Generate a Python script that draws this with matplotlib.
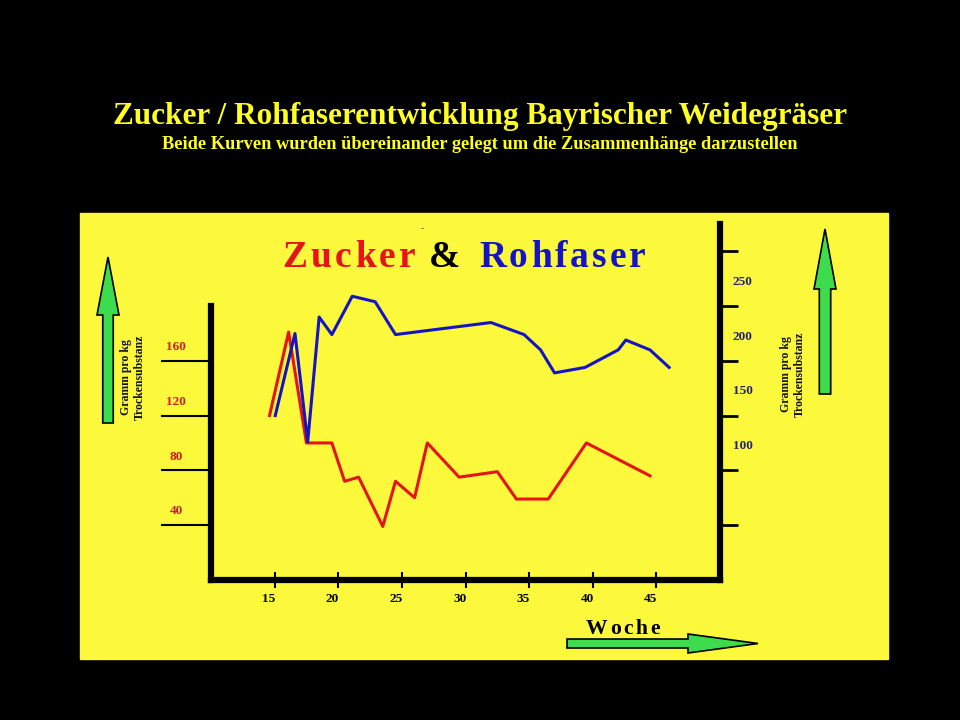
import matplotlib.pyplot as plt
from matplotlib.patches import Rectangle, FancyArrow

# Daten
zucker_wochen = [14.6, 16.1, 17.5, 19.5, 20.5, 21.6, 23.5, 24.5, 26.0, 27.0, 29.5, 32.5, 34.0, 36.5, 39.5, 44.5]
zucker = [120, 181, 100, 100, 72, 75, 39, 72, 60, 100, 75, 79, 59, 59, 100, 76]

rohfaser_wochen = [15.05, 16.6, 17.6, 18.5, 19.5, 21.1, 22.9, 24.5, 32.0, 34.6, 35.9, 37.0, 39.4, 42.0, 42.6, 44.5, 46.0]
rohfaser = [150, 225, 126, 240, 224, 259, 254, 224, 235, 224, 210, 189, 194, 210, 219, 210, 194]

wochen_ticks = [15, 20, 25, 30, 35, 40, 45]
zucker_ticks = [40, 80, 120, 160]
rohfaser_ticks = [50, 100, 150, 200, 250, 300]
rohfaser_labels = [100, 150, 200, 250]

gelb = "#fcf83c"
gruen = "#3cdc4c"
rot = "#e3141a"
blau = "#1414c4"
serif = "Liberation Serif"

fig = plt.figure(figsize=(9.6, 7.2), dpi=100, facecolor="black")

# Hintergrund-Achse in Pixelkoordinaten
bg = fig.add_axes([0, 0, 1, 1])
bg.set_xlim(0, 960)
bg.set_ylim(720, 0)
bg.axis("off")
bg.add_patch(Rectangle((80, 213), 808, 446, color=gelb))

renderer = fig.canvas.get_renderer()


def gesperrt(x, y, text, gap, **kw):
    # Text mit Buchstabenabstand zeichnen
    for ch in text:
        t = bg.text(x, y, ch, ha="left", va="baseline", family=serif, fontweight="bold", **kw)
        x += t.get_window_extent(renderer).width + gap
    return x


# Titel
bg.text(480, 124, "Zucker / Rohfaserentwicklung Bayrischer Weidegräser", ha="center", va="baseline",
        color="#ffff22", fontsize=22.5, fontweight="bold", family=serif)
bg.text(480, 149, "Beide Kurven wurden übereinander gelegt um die Zusammenhänge darzustellen", ha="center",
        va="baseline", color="#ffff22", fontsize=13.2, fontweight="bold", family=serif)

gesperrt(282, 267, "Zucker", 3.5, color=rot, fontsize=27)
gesperrt(429, 267, "&", 0, color="black", fontsize=27)
gesperrt(479, 267, "Rohfaser", 3.0, color=blau, fontsize=27)
bg.text(422, 229, "-", ha="center", va="center", fontsize=6, color="#333333")

gesperrt(586, 634, "Woche", 2.5, color="black", fontsize=15.5)

# Pfeile
bg.add_patch(FancyArrow(108, 423, 0, -166, width=10.5, head_width=22, head_length=58,
                        length_includes_head=True, fc=gruen, ec="black", lw=1.2))
bg.add_patch(FancyArrow(825, 394, 0, -165, width=11.4, head_width=22, head_length=60,
                        length_includes_head=True, fc=gruen, ec="black", lw=1.2))
bg.add_patch(FancyArrow(567, 643.5, 191, 0, width=9, head_width=19, head_length=70,
                        length_includes_head=True, fc=gruen, ec="black", lw=1.2))

for x, y in [(133, 377), (793, 374)]:
    bg.text(x, y, "Gramm pro kg\nTrockensubstanz", rotation=90, ha="center", va="center",
            fontsize=8.5, fontweight="bold", family=serif, linespacing=1.25, color="#111111")

# Diagramm
ax = fig.add_axes([211 / 960, (720 - 579.8) / 720, 509 / 960, 355.8 / 720])
ax.patch.set_visible(False)
ax.plot(zucker_wochen, zucker, color=rot, lw=2.2)
ax.set_xlim(10, 50)
ax.set_ylim(0, 260)

ax2 = ax.twinx()
ax2.plot(rohfaser_wochen, rohfaser, color=blau, lw=2.2)
ax2.set_ylim(0, 325)

for s in ["top", "right"]:
    ax.spines[s].set_visible(False)
for s in ["top", "left", "bottom"]:
    ax2.spines[s].set_visible(False)
for sp in [ax.spines["left"], ax.spines["bottom"], ax2.spines["right"]]:
    sp.set_linewidth(4.5)
    sp.set_capstyle("projecting")
ax.spines["left"].set_bounds(0, 200)

ax.set_xticks(wochen_ticks)
ax.tick_params(axis="x", direction="inout", length=11.5, width=1.5, labelbottom=False)
ax.set_yticks(zucker_ticks)
ax.tick_params(axis="y", direction="out", length=36, width=1.5, labelleft=False)
ax2.set_yticks(rohfaser_ticks)
ax2.tick_params(axis="y", direction="out", length=13, width=2, labelright=False)

for w in wochen_ticks:
    ax.text(w - 0.45, -0.055, str(w), transform=ax.get_xaxis_transform(), ha="center", va="center",
            fontsize=9.5, fontweight="bold", family=serif, color="black")
for v in zucker_ticks:
    ax.text(-0.068, v + 10, str(v), transform=ax.get_yaxis_transform(), ha="center", va="center",
            fontsize=9.5, fontweight="bold", family=serif, color="#cc2020")
for v in rohfaser_labels:
    ax2.text(1.045, v + 22, str(v), transform=ax2.get_yaxis_transform(), ha="center", va="center",
             fontsize=9.5, fontweight="bold", family=serif, color="#22226a")

fig.savefig("out.png", dpi=100, facecolor="black")
